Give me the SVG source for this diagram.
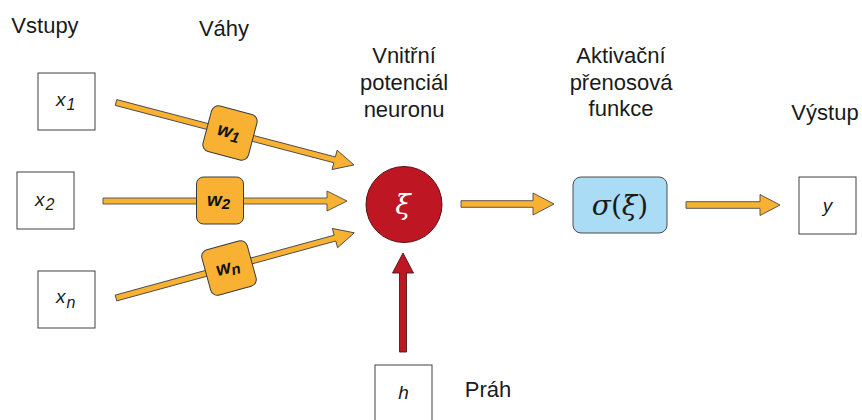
<svg xmlns="http://www.w3.org/2000/svg" width="862" height="420" viewBox="0 0 862 420">
  <style>
    .lbl { font-family: "Liberation Sans", Arial, sans-serif; font-size: 22px; fill: #1a1a1a; text-anchor: middle; }
    .box { fill: #ffffff; stroke: #404040; stroke-width: 1; }
    .var { font-family: "Liberation Sans", Arial, sans-serif; font-style: italic; font-size: 19px; fill: #1a1a1a; }
    .sub { font-size: 16px; }
    .wsub { font-size: 15px; }
    .wbox { fill: #F8B133; stroke: #3a3a3a; stroke-width: 1; }
    .wt { font-family: "Liberation Sans", Arial, sans-serif; font-style: italic; font-weight: bold; font-size: 19px; fill: #111; }
    .arr { fill: #F8B133; stroke: #4a4a4a; stroke-width: 0.9; stroke-linejoin: miter; }
    .arr-red { fill: #BE1622; stroke: #4a1a1a; stroke-width: 0.9; }
    .math { font-family: "DejaVu Serif", "Liberation Serif", serif; }
  </style>

  <!-- column headings -->
  <g id="headings">
    <text class="lbl" x="45" y="33">Vstupy</text>
    <text class="lbl" x="224" y="36">Váhy</text>
    <text class="lbl" x="404" y="63">Vnitřní</text>
    <text class="lbl" x="404" y="90">potenciál</text>
    <text class="lbl" x="404" y="117">neuronu</text>
    <text class="lbl" x="621" y="63">Aktivační</text>
    <text class="lbl" x="621" y="90">přenosová</text>
    <text class="lbl" x="621" y="116">funkce</text>
    <text class="lbl" x="825" y="120">Výstup</text>
    <text class="lbl" x="488" y="397">Práh</text>
  </g>

  <!-- connectors: block arrows drawn along the local x axis -->
  <g id="connectors">
    <path class="arr" transform="translate(116,102.5) rotate(14.7)" d="M0,-3 H226 V-10 L246,0 L226,10 V3 H0 Z"/>
    <path class="arr" transform="translate(103,201)" d="M0,-3 H224 V-10 L244,0 L224,10 V3 H0 Z"/>
    <path class="arr" transform="translate(116,298) rotate(-15.3)" d="M0,-3 H227 V-10 L247,0 L227,10 V3 H0 Z"/>
    <path class="arr" transform="translate(461,204)" d="M0,-3.3 H72 V-11 L93,0 L72,11 V3.3 H0 Z"/>
    <path class="arr" transform="translate(686,205)" d="M0,-3.3 H74 V-10.5 L94,0 L74,10.5 V3.3 H0 Z"/>
    <path class="arr-red" transform="translate(403,352) rotate(-90)" d="M0,-3.5 H79 V-10.5 L99,0 L79,10.5 V3.5 H0 Z"/>
  </g>

  <!-- inputs -->
  <g id="x1">
    <rect class="box" x="38" y="73" width="57" height="57"/>
    <text class="var" x="56" y="106">x<tspan class="sub" dx="1" dy="4">1</tspan></text>
  </g>
  <g id="x2">
    <rect class="box" x="17" y="172" width="57" height="57"/>
    <text class="var" x="35" y="206">x<tspan class="sub" dx="1" dy="4">2</tspan></text>
  </g>
  <g id="xn">
    <rect class="box" x="38" y="271" width="57" height="57"/>
    <text class="var" x="56" y="303">x<tspan class="sub" dx="1" dy="5">n</tspan></text>
  </g>

  <!-- weights -->
  <g id="w1" transform="translate(230,133) rotate(14.7)">
    <rect class="wbox" x="-23.5" y="-23.5" width="47" height="47" rx="7"/>
    <text class="wt" x="-13" y="5">w<tspan class="wsub" dy="3">1</tspan></text>
  </g>
  <g id="w2" transform="translate(220,200.5)">
    <rect class="wbox" x="-23.5" y="-23.5" width="47" height="47" rx="7"/>
    <text class="wt" x="-13" y="5">w<tspan class="wsub" dy="3">2</tspan></text>
  </g>
  <g id="wn" transform="translate(229,268) rotate(-15.3)">
    <rect class="wbox" x="-23.5" y="-23.5" width="47" height="47" rx="7"/>
    <text class="wt" x="-13" y="5">w<tspan class="wsub" dy="3">n</tspan></text>
  </g>

  <!-- neuron potential -->
  <g id="neuron">
    <circle cx="404" cy="204.5" r="38" fill="#BE1622" stroke="#5a1015" stroke-width="1"/>
    <text class="math" x="403" y="214" font-size="28" font-style="italic" fill="#ffffff" text-anchor="middle">ξ</text>
  </g>

  <!-- activation function -->
  <g id="activation">
    <rect x="573" y="177" width="94" height="56" rx="8" fill="#AADCF6" stroke="#4a4a4a" stroke-width="1"/>
    <text class="math" x="620" y="215" font-size="28" fill="#1a1a1a" text-anchor="middle"><tspan font-style="italic">σ</tspan>(<tspan font-style="italic">ξ</tspan>)</text>
  </g>

  <!-- output -->
  <g id="y">
    <rect class="box" x="799" y="177" width="57" height="57"/>
    <text class="var" x="827.5" y="212" text-anchor="middle">y</text>
  </g>

  <!-- threshold -->
  <g id="h">
    <rect class="box" x="375" y="365" width="57" height="60"/>
    <text class="var" x="403.5" y="399" text-anchor="middle">h</text>
  </g>
</svg>
